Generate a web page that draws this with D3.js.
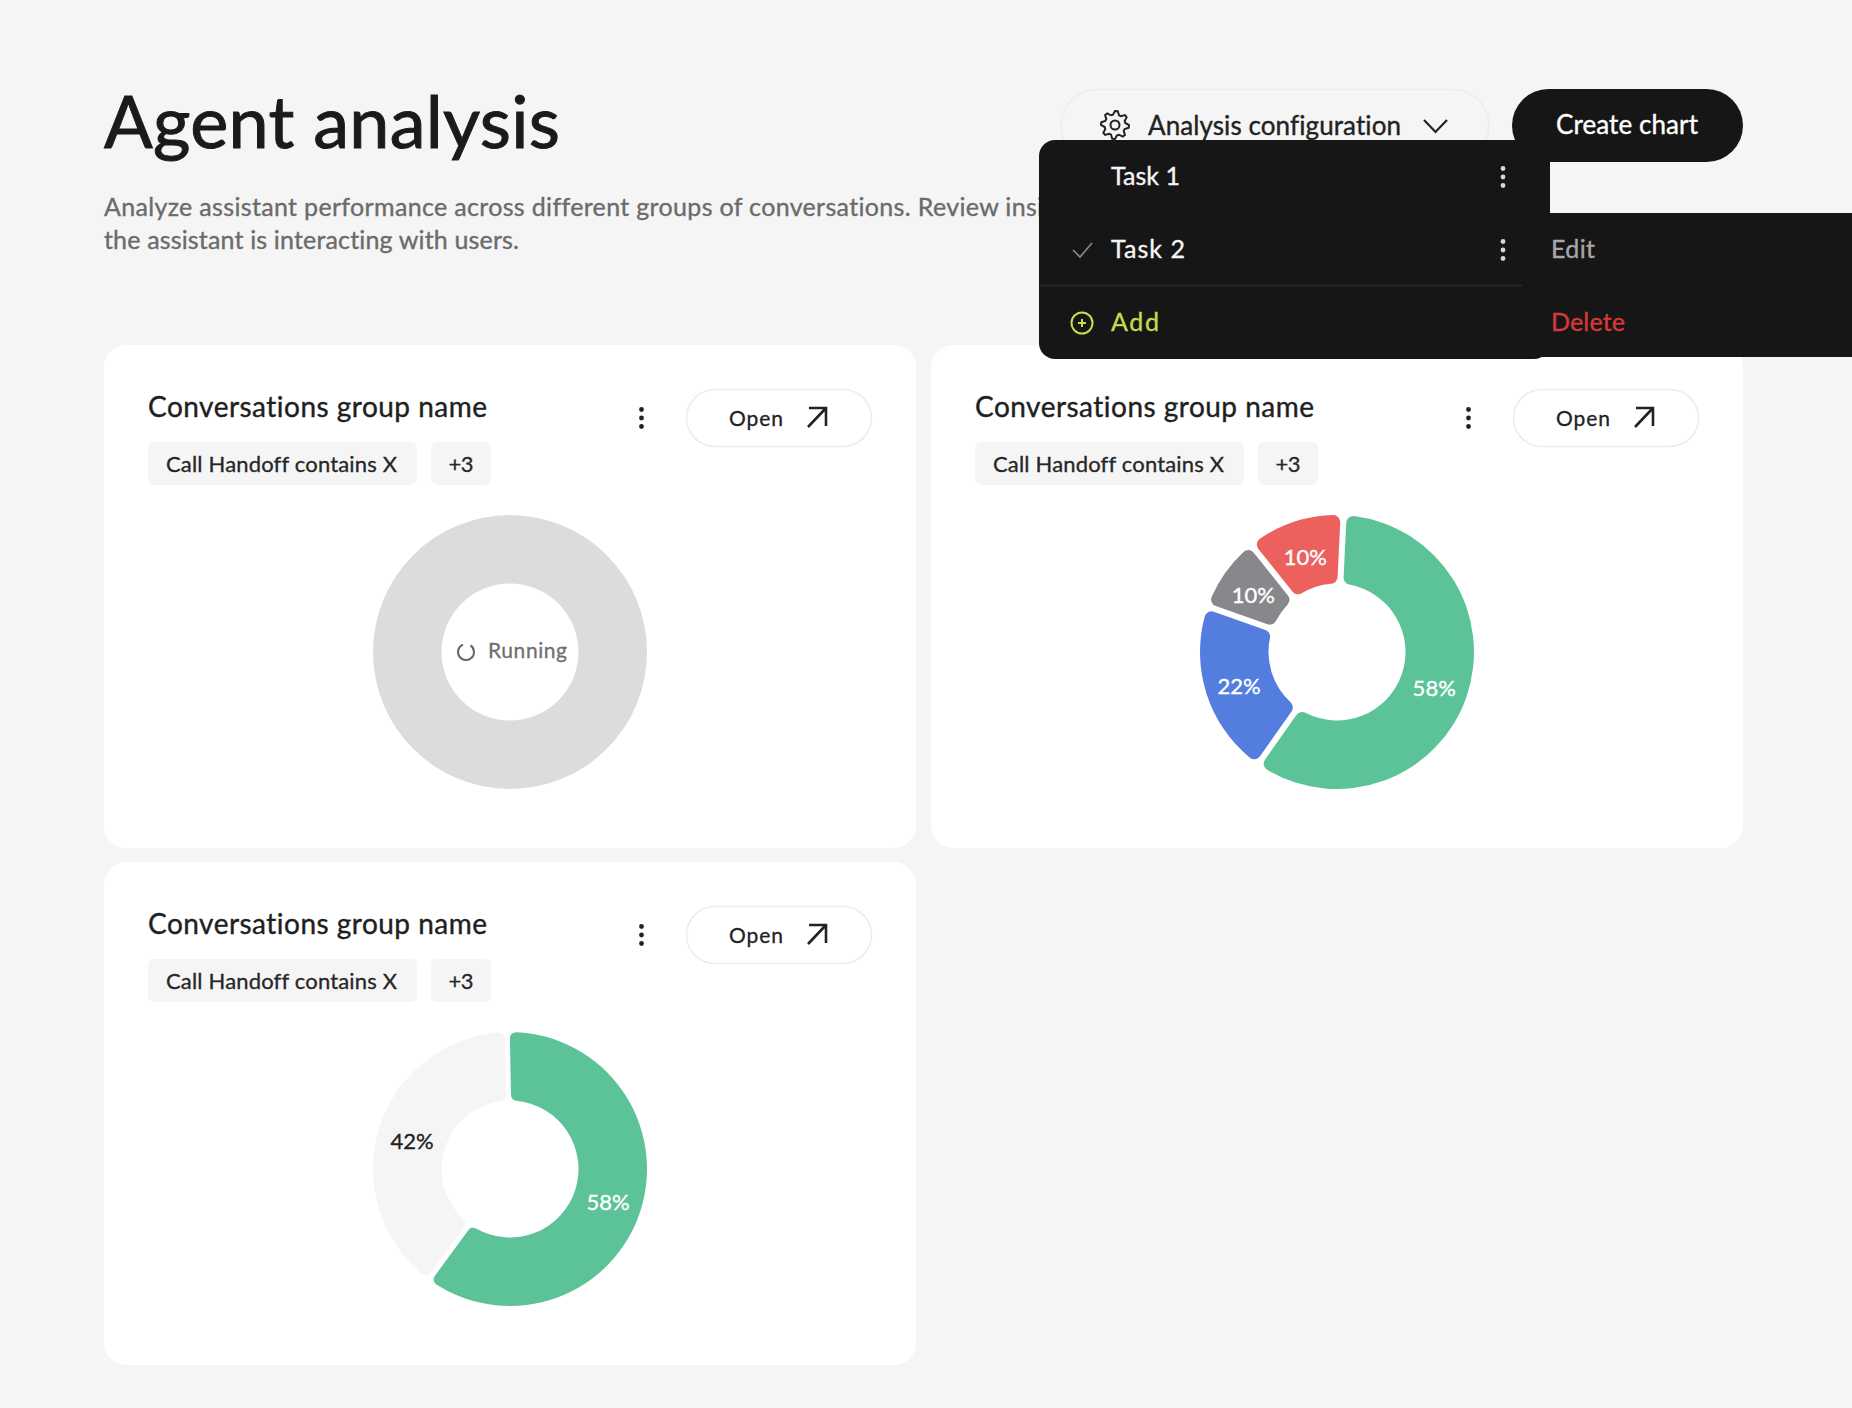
<!DOCTYPE html>
<html>
<head>
<meta charset="utf-8">
<title>Agent analysis</title>
<script src="https://cdn.jsdelivr.net/npm/d3@7"></script>
<style>
  html, body { margin: 0; padding: 0; background: #f5f5f5; }
  svg { display: block; }
  text { font-family: Lato, "Noto Sans", sans-serif; font-variant-ligatures: none; }
</style>
</head>
<body>
<div id="chart"></div>
<script>
// slice sizes are measured from the drawn arcs, the printed percentages are kept apart
// because the arcs in the picture do not quite follow them
const runningShares = [100];
const outcomeShares = [59.9, 20.5, 8.4, 11.1];
const outcomeLabels = ['58%', '22%', '10%', '10%'];
const outcomeColors = ['#5cc398', '#537edf', '#88888c', '#ec605e'];
const binaryShares = [60.5, 39.5];
const binaryLabels = ['58%', '42%'];
const binaryColors = ['#5cc398', '#f5f5f5'];
const binaryLabelColors = ['#ffffff', '#222222'];

const cardTitle = 'Conversations group name';
const filterTag = 'Call Handoff contains X';
const moreTag = '+3';

const width = 1852;
const height = 1408;
const ink = '#161616';

const svg = d3.select('#chart').append('svg')
  .attr('width', width)
  .attr('height', height);

svg.append('rect').attr('width', width).attr('height', height).attr('fill', '#f5f5f5');

// text with a fixed drawn width, the available fonts run narrower or wider than the original
function label(parent, str, x, y, size, color, fitWidth, anchor) {
  const t = parent.append('text')
    .attr('x', x)
    .attr('y', y)
    .attr('font-size', size)
    .attr('fill', color)
    .attr('stroke', color)
    .attr('stroke-width', size * 0.014)
    .attr('text-anchor', anchor || 'start')
    .text(str);
  if (fitWidth) t.attr('textLength', fitWidth).attr('lengthAdjust', 'spacing');
  return t;
}

function kebab(parent, x, y, color) {
  parent.selectAll(null)
    .data([-1, 0, 1])
    .enter()
    .append('circle')
    .attr('cx', x)
    .attr('cy', d => y + d * 8.5)
    .attr('r', 2.4)
    .attr('fill', color);
}

function donut(parent, cx, cy, shares, colors, options) {
  const opts = { rotate: 0, gap: 5, corner: 6, labels: [], labelColors: [], ...options };
  const outer = 137;
  const inner = 68.5;

  const pie = d3.pie()
    .sort(null)
    .startAngle(opts.rotate)
    .endAngle(opts.rotate + 2 * Math.PI)
    .padAngle(opts.gap / outer);

  const arc = d3.arc()
    .innerRadius(inner)
    .outerRadius(outer)
    .padRadius(outer)
    .cornerRadius(opts.corner);

  const g = parent.append('g').attr('transform', `translate(${cx},${cy})`);
  const slices = pie(shares);

  g.selectAll('path')
    .data(slices)
    .enter()
    .append('path')
    .attr('d', arc)
    .attr('fill', (d, i) => colors[i]);

  g.selectAll('text')
    .data(slices.filter((d, i) => opts.labels[i]))
    .enter()
    .append('text')
    .attr('transform', d => `translate(${arc.centroid(d)})`)
    .attr('dy', 2)
    .attr('text-anchor', 'middle')
    .attr('dominant-baseline', 'central')
    .attr('font-size', 22)
    .attr('fill', (d, i) => opts.labelColors[i] || '#ffffff')
    .attr('stroke', (d, i) => opts.labelColors[i] || '#ffffff')
    .attr('stroke-width', 0.35)
    .text((d, i) => opts.labels[i]);

  return g;
}

function card(originX, originY) {
  const g = svg.append('g').attr('transform', `translate(${originX},${originY})`);

  g.append('rect')
    .attr('width', 812)
    .attr('height', 503)
    .attr('rx', 22)
    .attr('fill', '#ffffff');

  label(g, cardTitle, 44, 72, 28, '#1f1f1f', 339);
  kebab(g, 537.5, 73, '#222222');

  g.append('rect')
    .attr('x', 582.5).attr('y', 44.5)
    .attr('width', 185).attr('height', 57)
    .attr('rx', 28.5)
    .attr('fill', '#ffffff')
    .attr('stroke', '#ececec')
    .attr('stroke-width', 1.5);
  label(g, 'Open', 625, 81, 21, '#222222', 54);
  g.append('path')
    .attr('d', 'M704 82L722 63M705 63H722V81')
    .attr('fill', 'none')
    .attr('stroke', '#222222')
    .attr('stroke-width', 2.6);

  g.append('rect')
    .attr('x', 44).attr('y', 97)
    .attr('width', 269).attr('height', 43)
    .attr('rx', 6)
    .attr('fill', '#f5f5f5');
  label(g, filterTag, 62, 127, 22, '#262626', 231);

  g.append('rect')
    .attr('x', 327).attr('y', 97)
    .attr('width', 60).attr('height', 43)
    .attr('rx', 6)
    .attr('fill', '#f5f5f5');
  label(g, moreTag, 357, 127, 22, '#262626', 25, 'middle');

  return g;
}

// header
label(svg, 'Agent analysis', 104, 148, 72, '#1a1a1a', 456);
label(svg, 'Analyze assistant performance across different groups of conversations. Review insights',
  104, 216, 25, '#6b6b6b', 987);
label(svg, 'the assistant is interacting with users.', 104, 249, 25, '#6b6b6b', 415);

svg.append('rect')
  .attr('x', 1061).attr('y', 89.5)
  .attr('width', 428).attr('height', 72)
  .attr('rx', 36)
  .attr('fill', '#f5f5f5')
  .attr('stroke', '#ececec')
  .attr('stroke-width', 1.5);

// gear teeth as a closed radial line
const gearRadius = d3.scaleOrdinal().domain([0, 1, 2, 3]).range([14, 14, 10.5, 10.5]);
svg.append('path')
  .attr('transform', 'translate(1115,125)')
  .attr('d', d3.lineRadial()
    .curve(d3.curveLinearClosed)
    .angle(i => i * Math.PI / 16)
    .radius(i => gearRadius(i % 4))(d3.range(32)))
  .attr('fill', 'none')
  .attr('stroke', '#222222')
  .attr('stroke-width', 2);
svg.append('circle')
  .attr('cx', 1115).attr('cy', 125).attr('r', 4.5)
  .attr('fill', 'none').attr('stroke', '#222222').attr('stroke-width', 2);

label(svg, 'Analysis configuration', 1148, 135, 26, '#222222', 253);
svg.append('path')
  .attr('d', 'M1424 120L1435.5 132L1447 120')
  .attr('fill', 'none')
  .attr('stroke', '#222222')
  .attr('stroke-width', 2.2);

svg.append('rect')
  .attr('x', 1512).attr('y', 89)
  .attr('width', 231).attr('height', 73)
  .attr('rx', 36.5)
  .attr('fill', ink);
label(svg, 'Create chart', 1556, 134, 26, '#ffffff', 142);

// cards
const colX = d3.scaleOrdinal().domain([0, 1]).range([104, 931]);
const rowY = d3.scaleOrdinal().domain([0, 1]).range([345, 862]);
const donutX = 406;
const donutY = 307;

const runningCard = card(colX(0), rowY(0));
donut(runningCard, donutX, donutY, runningShares, ['#dcdcdc'], { gap: 0, corner: 0 });
runningCard.append('path')
  .attr('transform', `translate(${362},${307})`)
  .attr('d', d3.arc().innerRadius(7).outerRadius(9).startAngle(0.6).endAngle(5.9)())
  .attr('fill', '#666666');
label(runningCard, 'Running', 384, 313, 21, '#6f6f6f', 79);

const outcomeCard = card(colX(1), rowY(0));
donut(outcomeCard, donutX, donutY, outcomeShares, outcomeColors, {
  rotate: 0.048,
  gap: 6,
  corner: 7,
  labels: outcomeLabels
});

const binaryCard = card(colX(0), rowY(1));
donut(binaryCard, donutX, donutY, binaryShares, binaryColors, {
  rotate: -0.02,
  labels: binaryLabels,
  labelColors: binaryLabelColors
});

// open menu sits on top of the page
const menu = svg.append('g');
menu.append('rect')
  .attr('x', 1520).attr('y', 213)
  .attr('width', 332).attr('height', 144)
  .attr('fill', ink);
menu.append('rect')
  .attr('x', 1039).attr('y', 140)
  .attr('width', 511).attr('height', 219)
  .attr('rx', 16)
  .attr('fill', ink);
// squares off the top right corner where the menu meets the button
menu.append('rect')
  .attr('x', 1530).attr('y', 140)
  .attr('width', 20).attr('height', 60)
  .attr('fill', ink);
menu.append('line')
  .attr('x1', 1039).attr('x2', 1522)
  .attr('y1', 285.5).attr('y2', 285.5)
  .attr('stroke', '#2b2b2b')
  .attr('stroke-width', 1.5);

label(menu, 'Task 1', 1111, 185, 25, '#f5f5f5', 69);
label(menu, 'Task 2', 1111, 258, 25, '#f5f5f5', 74);
label(menu, 'Add', 1111, 331, 25, '#c6dc4c', 48);
kebab(menu, 1503, 177, '#d8d8d8');
kebab(menu, 1503, 250, '#d8d8d8');

menu.append('path')
  .attr('d', 'M1073 250L1080 257L1092 243')
  .attr('fill', 'none')
  .attr('stroke', '#8a8a8a')
  .attr('stroke-width', 1.6);
menu.append('circle')
  .attr('cx', 1082).attr('cy', 323).attr('r', 10.5)
  .attr('fill', 'none')
  .attr('stroke', '#c6dc4c')
  .attr('stroke-width', 2);
menu.append('path')
  .attr('d', 'M1082 319V327M1078 323H1086')
  .attr('stroke', '#c6dc4c')
  .attr('stroke-width', 2);

label(menu, 'Edit', 1551, 258, 25, '#a8a8a8', 44);
label(menu, 'Delete', 1551, 331, 25, '#d8383a', 74);
</script>
</body>
</html>
